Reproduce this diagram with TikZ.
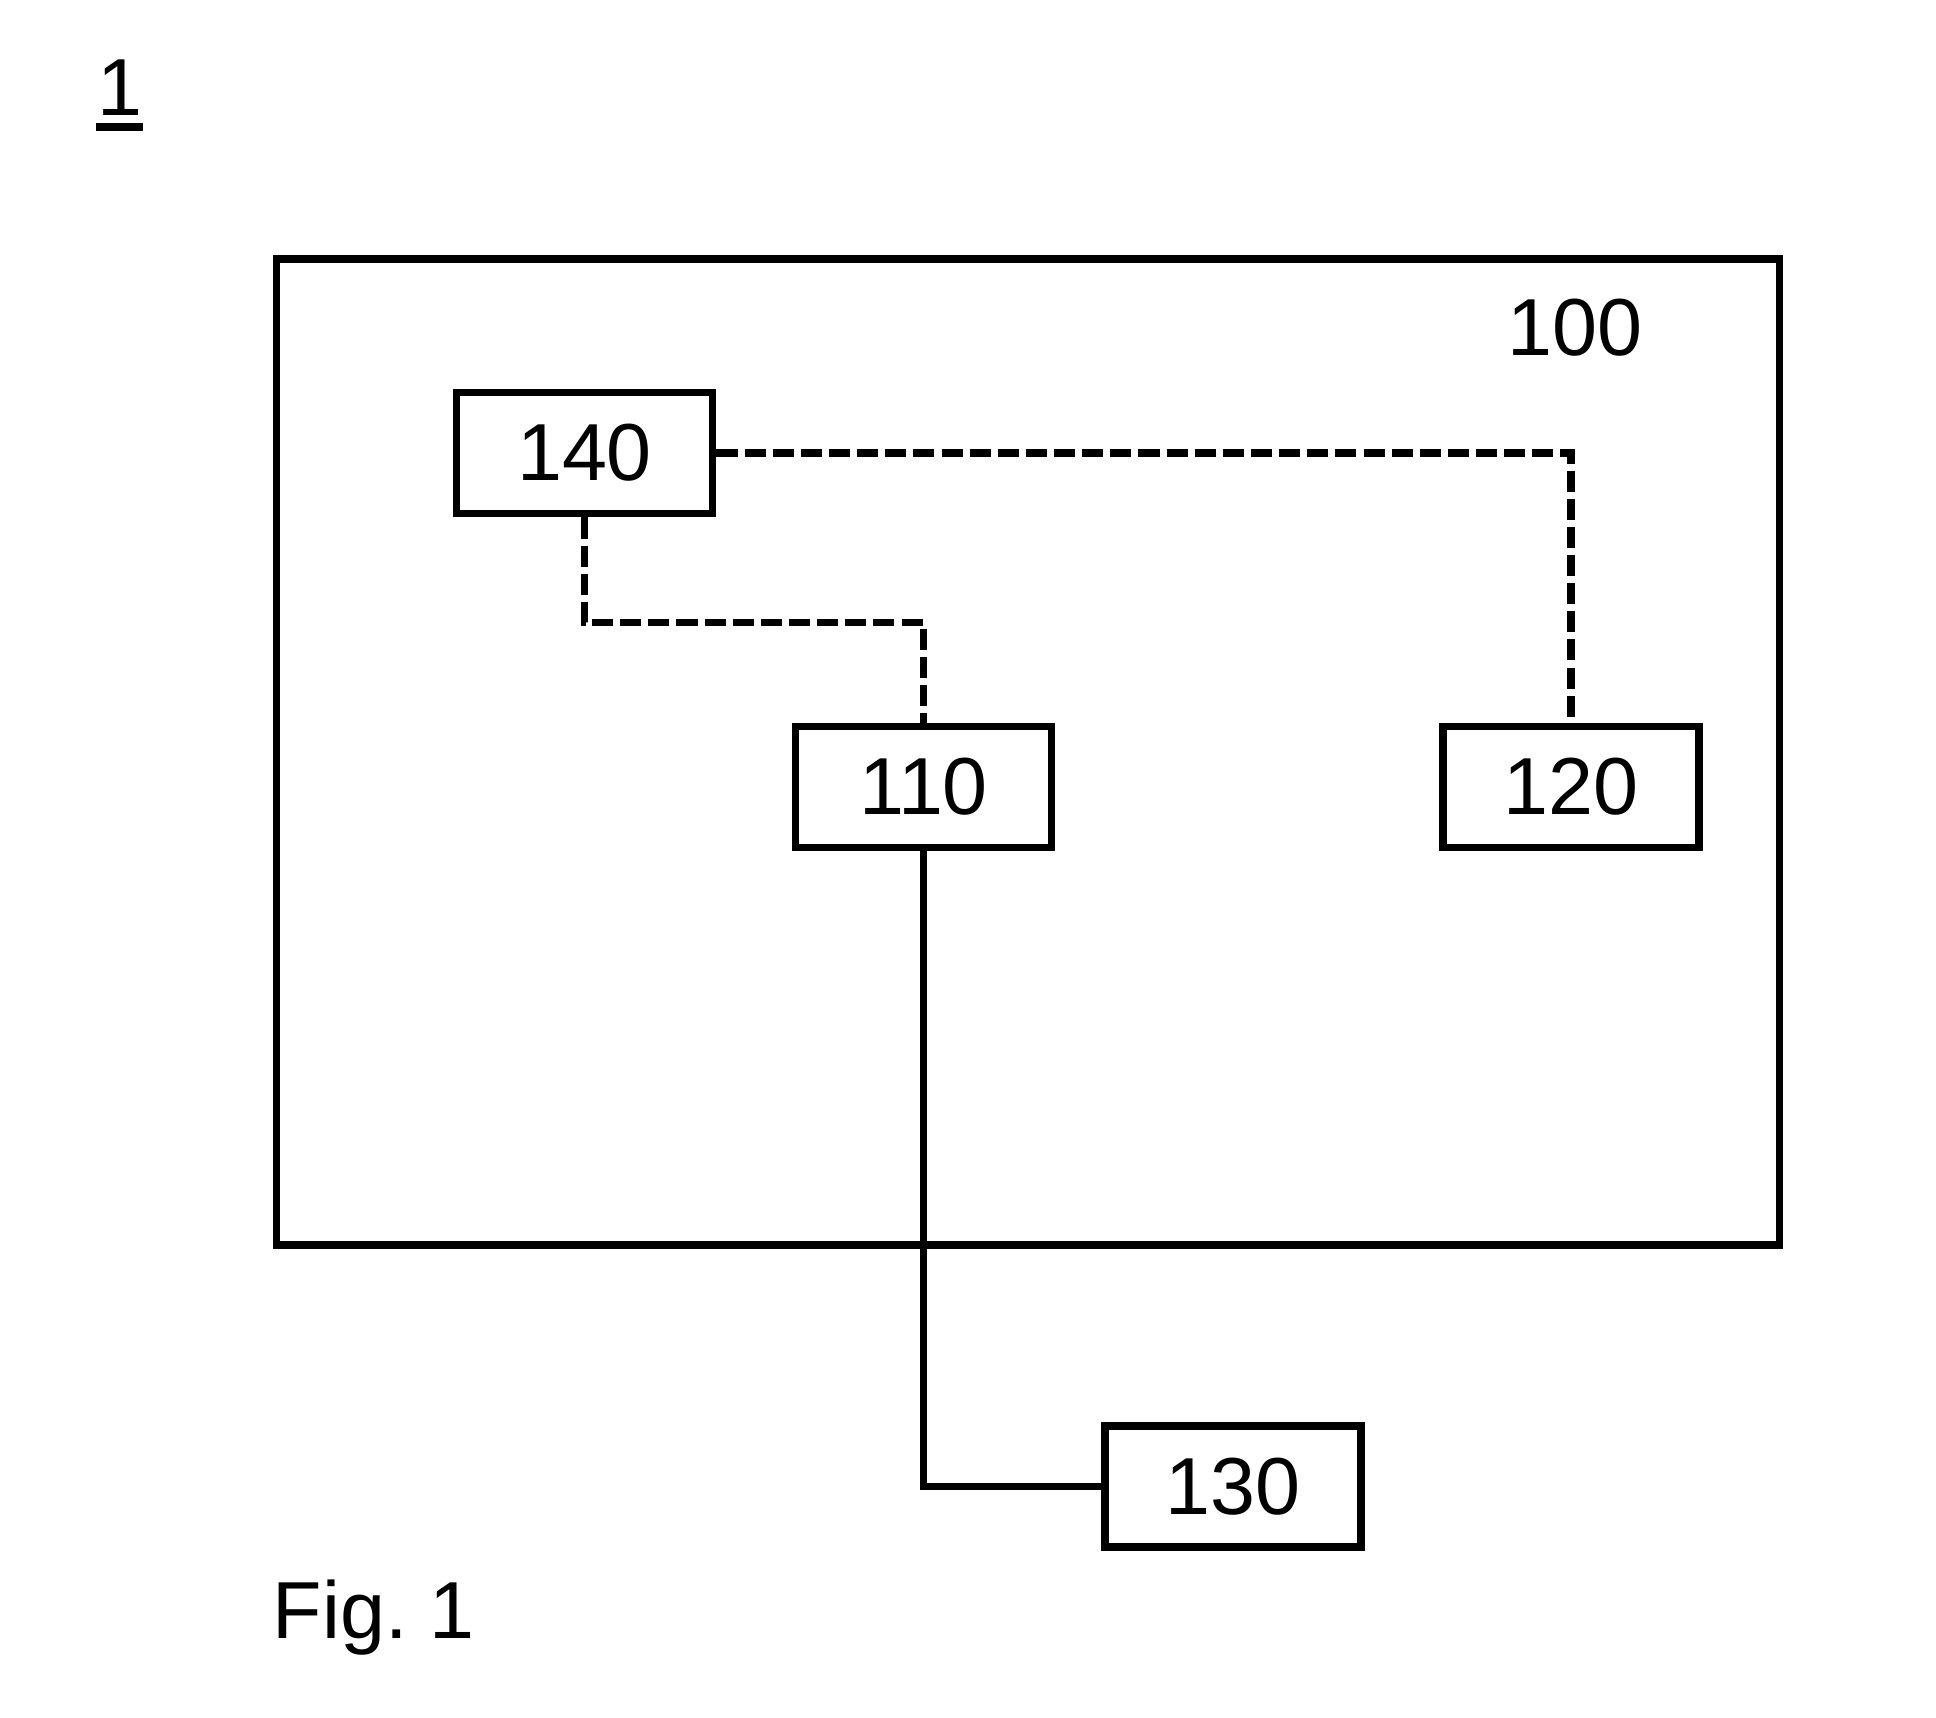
\documentclass[tikz,border=0pt]{standalone}
\usepackage{fontspec}
\setmainfont{Liberation Sans}
\usetikzlibrary{positioning,calc}

\begin{document}
\begin{tikzpicture}[x=0.01cm,y=-0.01cm,font=\fontsize{23}{28}\selectfont,
 unit/.style={draw,line width=2.2pt,minimum width=2.56cm,minimum height=1.21cm,inner sep=0pt},
 link/.style={line width=2.2pt,dash pattern=on 6pt off 2pt},
 wire/.style={line width=2.2pt},
 lbl/.style={inner sep=0pt}]
\useasboundingbox (0,0) rectangle (1936,1717);
% Reference numeral of the whole arrangement.
\node[lbl,anchor=base] (ref) at (119.5,115) {1};
\draw[line width=2.3pt] ([yshift=-0.12cm]ref.base west) -- ([yshift=-0.12cm]ref.base east);

% Device 100 with its parts.
\node[draw,line width=2.2pt,minimum width=15.02cm,minimum height=9.86cm,inner sep=0pt]
  (dev) at (1028,752) {};
\node[lbl] (devlbl) at (1575,328) {100};
\node[unit] (n140) at (584.5,453) {140};
\node[unit] (n110) at (923.5,787) {110};
\node[unit] (n120) at (1571,787) {120};
\node[unit] (n130) at (1233,1486.5) {130};

\draw[link] (n140.east) -| (n120.north);
\draw[link] (n140.south) -- ++(0,105) -| (n110.north);
\draw[wire] (n110.south) |- (n130.west);

\node[lbl,anchor=base west] (cap) at (272,1638) {\spaceskip=0.18em\relax Fig. 1};
\end{tikzpicture}
\end{document}
